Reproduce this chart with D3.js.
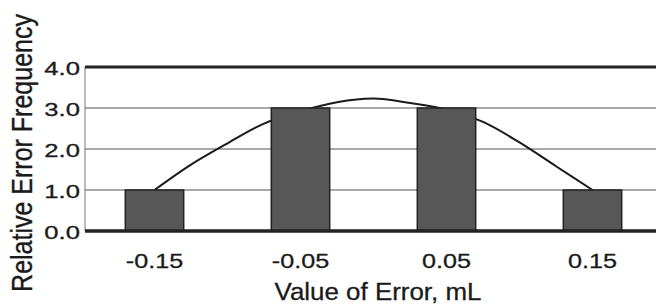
<!DOCTYPE html>
<html>
<head>
<meta charset="utf-8">
<script src="https://cdn.jsdelivr.net/npm/d3@7"></script>
<style>
  body { margin: 0; background: #fff; }
  svg { display: block; font-family: "Liberation Sans", Arial, sans-serif; }
  text { fill: #1a1a1a; stroke: #1a1a1a; stroke-width: 0.3px; }
</style>
</head>
<body>
<div id="chart"></div>
<script>
// data
let categories = ["-0.15", "-0.05", "0.05", "0.15"];
let frequency = [1, 3, 3, 1];
let yTicks = [0, 1, 2, 3, 4];
// fitted curve (error value, frequency)
let curveX = [-0.15, -0.125, -0.1, -0.075, -0.05, -0.025, 0, 0.025, 0.05, 0.075, 0.1, 0.125, 0.15];
let curveY = [1.0, 1.62, 2.14, 2.62, 2.92, 3.14, 3.23, 3.12, 2.96, 2.66, 2.16, 1.58, 1.0];

let w = 656, h = 304;
let plotLeft = 85, plotRight = 656, plotTop = 67, plotBottom = 231;

let svg = d3.select("#chart").append("svg").attr("width", w).attr("height", h);

let x = d3.scaleBand()
  .domain(categories)
  .range([81.5, 665.5])
  .paddingInner(0.6)
  .paddingOuter(0.3);

let y = d3.scaleLinear().domain([0, 4]).range([plotBottom, plotTop]);

let xv = d3.scaleLinear()
  .domain([-0.15, 0.15])
  .range([x("-0.15") + x.bandwidth() / 2, x("0.15") + x.bandwidth() / 2]);

// gridlines
svg.append("g")
  .selectAll("line")
  .data(yTicks.filter(d => d > 0 && d < 4))
  .enter()
  .append("line")
  .attr("x1", plotLeft).attr("x2", plotRight)
  .attr("y1", d => y(d)).attr("y2", d => y(d))
  .attr("stroke", "#8c8c8c")
  .attr("stroke-width", 1.5);

// left axis line
svg.append("line")
  .attr("x1", plotLeft).attr("x2", plotLeft)
  .attr("y1", plotTop).attr("y2", plotBottom)
  .attr("stroke", "#777").attr("stroke-width", 1);

// top frame
svg.append("line")
  .attr("x1", plotLeft).attr("x2", plotRight)
  .attr("y1", y(4)).attr("y2", y(4))
  .attr("stroke", "#222").attr("stroke-width", 3);

// fitted curve (drawn below the bars)
let pts = curveX.map((v, i) => [v, curveY[i]]);
let line = d3.line()
  .x(d => xv(d[0]))
  .y(d => y(d[1]))
  .curve(d3.curveCatmullRom);

svg.append("path")
  .attr("d", line(pts))
  .attr("fill", "none")
  .attr("stroke", "#1a1a1a")
  .attr("stroke-width", 2);

// bars
svg.append("g")
  .selectAll("rect")
  .data(categories)
  .enter()
  .append("rect")
  .attr("x", d => x(d))
  .attr("y", (d, i) => y(frequency[i]))
  .attr("width", x.bandwidth())
  .attr("height", (d, i) => y(0) - y(frequency[i]))
  .attr("fill", "#575757")
  .attr("stroke", "#222")
  .attr("stroke-width", 1.5);

// bottom axis line
svg.append("line")
  .attr("x1", plotLeft).attr("x2", plotRight)
  .attr("y1", y(0)).attr("y2", y(0))
  .attr("stroke", "#222").attr("stroke-width", 3.5);

// y tick labels
svg.append("g")
  .selectAll("text")
  .data(yTicks)
  .enter()
  .append("text")
  .attr("transform", d => "translate(80," + (y(d) + 7.5) + ") scale(1.35,1)")
  .attr("text-anchor", "end")
  .attr("font-size", "19px")
  .text(d => d3.format(".1f")(d));

// x tick labels
svg.append("g")
  .selectAll("text")
  .data(categories)
  .enter()
  .append("text")
  .attr("transform", d => "translate(" + (x(d) + x.bandwidth() / 2) + ",268) scale(1.2,1)")
  .attr("text-anchor", "middle")
  .attr("font-size", "21px")
  .text(d => d);

// axis titles
svg.append("text")
  .attr("transform", "translate(378,300) scale(1.08,1)")
  .attr("text-anchor", "middle")
  .attr("font-size", "24px")
  .text("Value of Error, mL");

svg.append("text")
  .attr("transform", "translate(32,153) scale(1.15,1) rotate(-90)")
  .attr("text-anchor", "middle")
  .attr("font-size", "25px")
  .text("Relative Error Frequency");
</script>
</body>
</html>
